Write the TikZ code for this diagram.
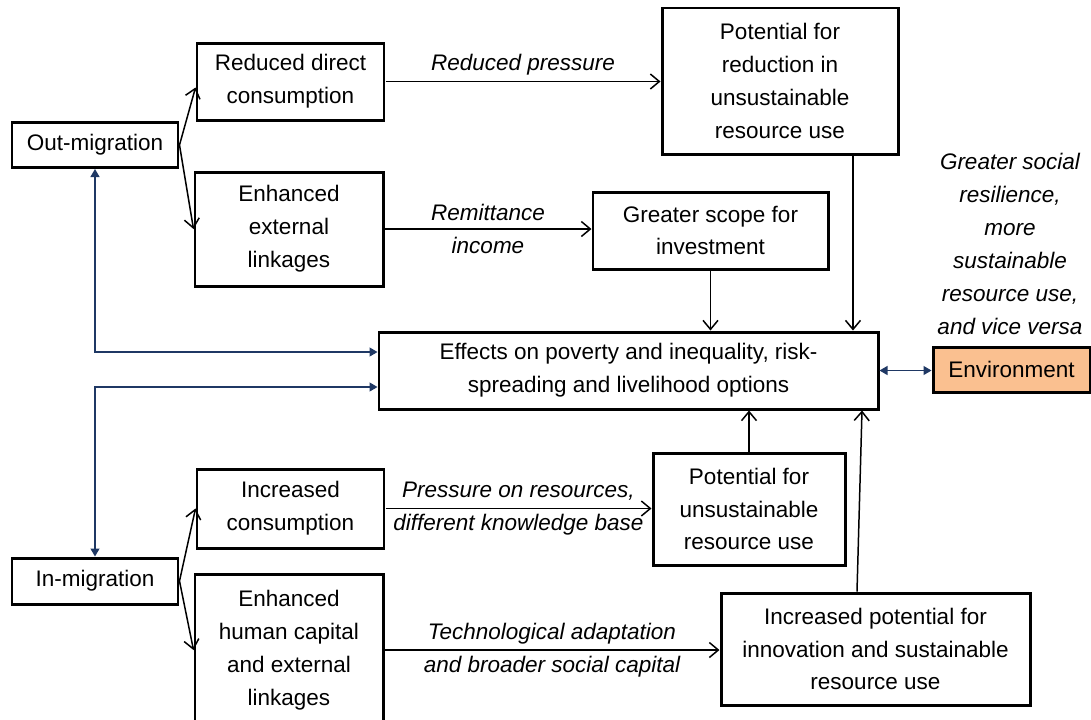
\documentclass[tikz,border=0pt]{standalone}
\usepackage{fontspec}
\setmainfont{Liberation Sans}
\usetikzlibrary{arrows.meta}
\definecolor{linkblue}{RGB}{31,56,100}
\definecolor{envfill}{RGB}{250,192,144}
\tikzset{
  box/.style={draw, line width=1.7pt, align=center, inner sep=0pt,
    font=\fontsize{12.8}{18.7}\selectfont},
  lbl/.style={align=center, inner sep=1pt, font=\fontsize{12.8}{18.7}\selectfont\itshape},
  flow/.style={-{Straight Barb[length=1.8mm,width=3mm]}, line width=0.85pt},
  link/.style={{Triangle[length=1.6mm,width=1.8mm]}-{Triangle[length=1.6mm,width=1.8mm]},
    draw=linkblue, fill=none, line width=0.7pt},
}
\begin{document}
\begin{tikzpicture}[x=0.2mm, y=-0.2mm]
            \useasboundingbox (0,0) rectangle (1091,719);
            % migration sources
            \node[box, minimum width=33.2mm, minimum height=9mm] (OM) at (95,145) {Out-migration};
            \node[box, minimum width=33.2mm, minimum height=9.2mm] (IM) at (95,581) {In-migration};
            % first-order effects
            \node[box, minimum width=37.4mm, minimum height=15.4mm] (RDC) at (290.5,81.5) {Reduced direct\\consumption};
            \node[box, minimum width=37.6mm, minimum height=22.8mm] (EEL) at (289,229) {Enhanced\\external\\linkages};
            \node[box, minimum width=37.4mm, minimum height=15.8mm] (IC) at (290.5,508.5) {Increased\\consumption};
            \node[box, minimum width=37.6mm, minimum height=30.4mm] (EHC) at (289,650) {Enhanced\\human capital\\and external\\linkages};
            % potentials
            \node[box, minimum width=47.2mm, minimum height=29.2mm] (PRR) at (780,81) {Potential for\\reduction in\\unsustainable\\resource use};
            \node[box, minimum width=47mm, minimum height=15.4mm] (GSI) at (710.5,230.5) {Greater scope for\\investment};
            \node[box, minimum width=38.4mm, minimum height=22.4mm] (PU) at (749,509) {Potential for\\unsustainable\\resource use};
            \node[box, minimum width=61.8mm, minimum height=22.4mm] (IPI) at (875.5,649) {Increased potential for\\innovation and sustainable\\resource use};
            % outcome and environment
            \node[box, minimum width=99.8mm, minimum height=15.4mm] (EFF) at (628.5,370.5) {Effects on poverty and inequality, risk-\\spreading and livelihood options};
            \node[box, fill=envfill, minimum width=31.4mm, minimum height=9mm] (ENV) at (1011.5,369.5) {Environment};
            \node[lbl] (GSR) at (1010,244) {Greater social\\resilience,\\more\\sustainable\\resource use,\\and vice versa};

            \draw[flow] (OM.east) -- ([yshift=-1.2mm]RDC.west);
            \draw[flow] (OM.east) -- (EEL.west);
            \draw[flow] (IM.east) -- (IC.west);
            \draw[flow] (IM.east) -- (EHC.west);
            \draw[flow] (RDC.east) -- node[lbl, above=2pt] {Reduced pressure} (RDC.east -| PRR.west);
            \draw[flow] (EEL.east) -- node[lbl] {Remittance\\income} (EEL.east -| GSI.west);
            \draw[flow] (IC.east) -- node[lbl] {Pressure on resources,\\different knowledge base} (IC.east -| PU.west);
            \draw[flow] (EHC.east) -- node[lbl] {Technological adaptation\\and broader social capital} (EHC.east -| IPI.west);
            \draw[flow] (GSI.south) -- (GSI.south |- EFF.north);
            \draw[flow] ([xshift=14.6mm]PRR.south) -- ([xshift=14.6mm]PRR.south |- EFF.north);
            \draw[flow] (PU.north) -- (PU.north |- EFF.south);
            \draw[flow] ([xshift=-3.7mm]IPI.north) -- ([xshift=-2.7mm]IPI.north |- EFF.south);
            \draw[link] (OM.south) |- ([yshift=3.7mm]EFF.west);
            \draw[link] (IM.north) |- ([yshift=-3.3mm]EFF.west);
            \draw[link] (EFF.east) -- (EFF.east -| ENV.west);
        \end{tikzpicture}
\end{document}
